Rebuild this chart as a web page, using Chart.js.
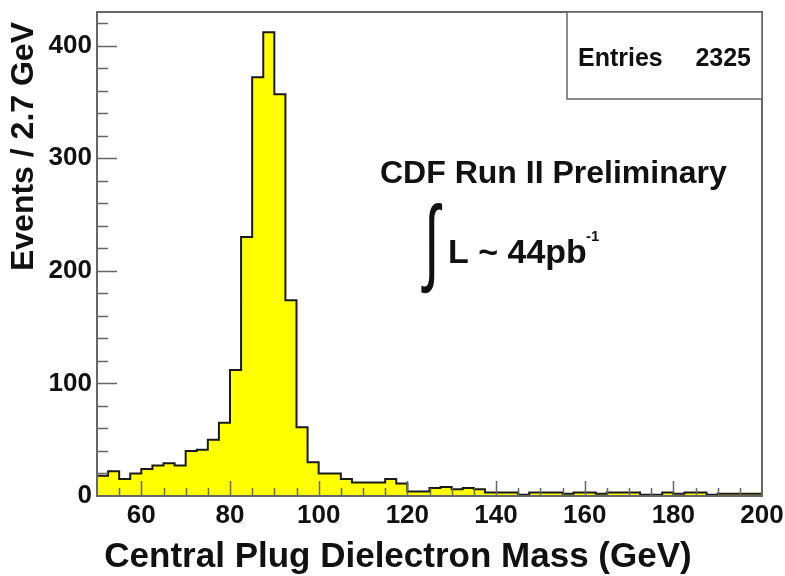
<!DOCTYPE html>
<html>
<head>
<meta charset="utf-8">
<script src="https://cdn.jsdelivr.net/npm/chart.js@4.4.1/dist/chart.umd.min.js"></script>
<style>
  body { margin: 0; background: #fff; }
  canvas { display: block; }
</style>
</head>
<body>
<canvas id="massChart" width="785" height="576"></canvas>
<script>
// dielectron mass histogram, bins start at 50 GeV
const massStart = 50;
const binWidth = 2.5;
const counts = [
    18, 22, 15, 20, 24, 27, 29, 27, 40, 41, 50, 65,
    112, 230, 372, 412, 357, 174, 61, 30,
    20, 20, 15, 12, 12, 12, 15, 11, 4, 4, 7, 8, 6, 7, 6, 3,
    3, 3, 1, 3, 3, 3, 2, 3, 3, 2, 3, 3, 3, 1, 1, 3, 2, 3, 3, 1, 2, 2, 2, 2
];
const xTickLabels = [60, 80, 100, 120, 140, 160, 180, 200];
const yTickLabels = [0, 100, 200, 300, 400];
const entries = 2325;

const fontFamily = "'Liberation Sans', Arial, sans-serif";
Chart.defaults.font.family = fontFamily;

// one point per lower bin edge, plus the closing edge
const histPoints = counts.map((c, i) => ({ x: massStart + i * binWidth, y: c }));
histPoints.push({ x: massStart + counts.length * binWidth, y: counts[counts.length - 1] });

const decorations = {
    id: 'decorations',
    afterDatasetsDraw(chart) {
        const { ctx, chartArea: a, scales: { x, y } } = chart;
        ctx.save();

        // inside ticks
        ctx.strokeStyle = '#666';
        ctx.lineWidth = 1.5;
        ctx.beginPath();
        for (let v = 20; v <= y.max; v += 20) {
            const py = Math.round(y.getPixelForValue(v)) + 0.5;
            const len = v % 100 === 0 ? 20 : 11;
            ctx.moveTo(a.left, py);
            ctx.lineTo(a.left + len, py);
        }
        for (let v = 55; v < x.max; v += 5) {
            const px = Math.round(x.getPixelForValue(v)) + 0.5;
            const len = v % 20 === 0 ? 15 : 8;
            ctx.moveTo(px, a.bottom);
            ctx.lineTo(px, a.bottom - len);
        }
        ctx.stroke();

        // frame
        ctx.lineWidth = 2;
        ctx.strokeStyle = '#666';
        ctx.strokeRect(a.left, a.top, a.right - a.left, a.bottom - a.top);

        // stats box
        const boxW = 195, boxH = 87;
        ctx.fillStyle = '#fff';
        ctx.fillRect(a.right - boxW, a.top, boxW, boxH);
        ctx.lineWidth = 1.5;
        ctx.strokeRect(a.right - boxW, a.top, boxW, boxH);
        ctx.fillStyle = '#111';
        ctx.font = 'bold 25px ' + fontFamily;
        ctx.textBaseline = 'alphabetic';
        ctx.textAlign = 'left';
        ctx.fillText('Entries', a.right - 184, a.top + 54);
        ctx.textAlign = 'right';
        ctx.fillText(String(entries), a.right - 11, a.top + 54);

        // labels
        ctx.textAlign = 'left';
        ctx.font = 'bold 32px ' + fontFamily;
        ctx.fillText('CDF Run II Preliminary', 380, 183);
        ctx.font = 'bold 34px ' + fontFamily;
        ctx.fillText('L ~ 44pb', 448, 263);
        ctx.font = 'bold 15px ' + fontFamily;
        ctx.fillText('-1', 586, 241);

        ctx.save();
        ctx.translate(424, 247);
        ctx.scale(1, 1.7);
        ctx.font = '56px ' + fontFamily;
        ctx.textBaseline = 'middle';
        ctx.fillText('\u222B', 0, 0);
        ctx.restore();

        // axis titles
        ctx.font = 'bold 35px ' + fontFamily;
        ctx.textAlign = 'center';
        ctx.fillText('Central Plug Dielectron Mass (GeV)', 398, 567);

        ctx.save();
        ctx.translate(24, 22);
        ctx.rotate(-Math.PI / 2);
        ctx.font = 'bold 32px ' + fontFamily;
        ctx.textAlign = 'right';
        ctx.textBaseline = 'middle';
        ctx.fillText('Events / 2.7 GeV', 0, 0);
        ctx.restore();

        ctx.restore();
    }
};

const chart = new Chart(document.getElementById('massChart'), {
    type: 'line',
    data: {
        datasets: [{
            data: histPoints,
            stepped: 'before',
            fill: 'origin',
            backgroundColor: '#ffff00',
            borderColor: '#1a1a1a',
            borderWidth: 2,
            pointRadius: 0,
            tension: 0
        }]
    },
    options: {
        responsive: false,
        animation: false,
        layout: { padding: { top: 12, right: 23, left: 0, bottom: 0 } },
        plugins: { legend: { display: false }, tooltip: { enabled: false } },
        scales: {
            x: {
                type: 'linear',
                min: 50,
                max: 200,
                grid: { display: false, drawTicks: false },
                border: { display: false },
                afterBuildTicks: (s) => { s.ticks = xTickLabels.map(v => ({ value: v })); },
                afterFit: (s) => { s.height = 80; s.paddingLeft = 0; s.paddingRight = 0; },
                ticks: {
                    padding: 4,
                    color: '#111',
                    font: { size: 26, weight: 'bold' }
                }
            },
            y: {
                min: 0,
                max: 430,
                grid: { display: false, drawTicks: false },
                border: { display: false },
                afterBuildTicks: (s) => { s.ticks = yTickLabels.map(v => ({ value: v })); },
                afterFit: (s) => { s.width = 97; s.paddingTop = 0; s.paddingBottom = 0; },
                ticks: {
                    padding: 5,
                    color: '#111',
                    font: { size: 26, weight: 'bold' }
                }
            }
        }
    },
    plugins: [decorations]
});
</script>
</body>
</html>
